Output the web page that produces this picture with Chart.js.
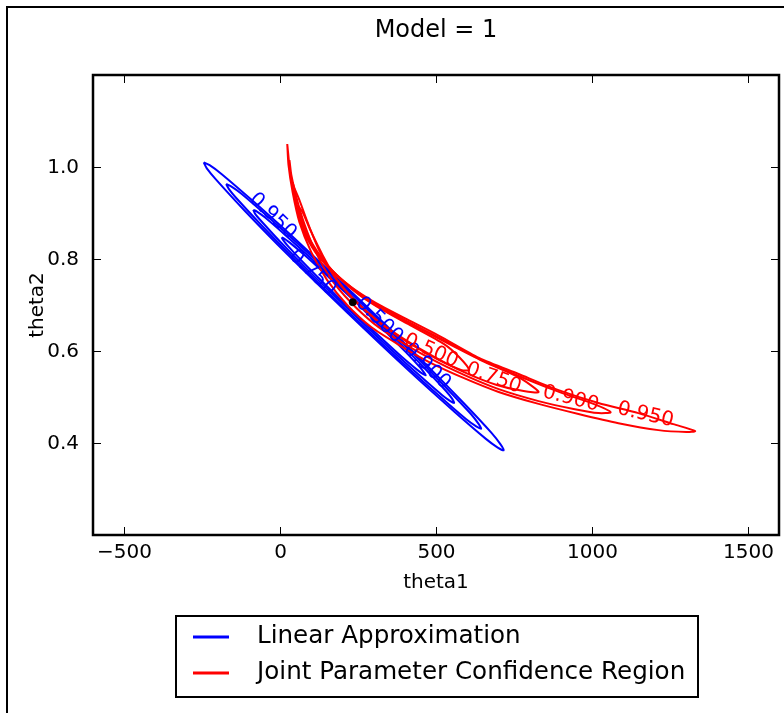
<!DOCTYPE html>
<html>
<head>
<meta charset="utf-8">
<title>Model = 1</title>
<script src="https://cdn.jsdelivr.net/npm/chart.js@4.4.1/dist/chart.umd.min.js"></script>
<style>
  html, body { margin: 0; padding: 0; background: #fff; }
  #wrap { position: relative; width: 784px; height: 713px; }
</style>
</head>
<body>
<div id="wrap"><canvas id="contourChart" width="784" height="713"></canvas></div>
<script>
(function () {
  'use strict';

  // Axis ticks
  var X_TICKS = [-500, 0, 500, 1000, 1500];
  var X_TICK_LABELS = ['\u2212500', '0', '500', '1000', '1500'];
  var Y_TICKS = [0.4, 0.6, 0.8, 1.0];
  var Y_TICK_LABELS = ['0.4', '0.6', '0.8', '1.0'];

  var SERIES_NAMES = ['Linear Approximation', 'Joint Parameter Confidence Region'];

  // Linear approximation ellipses, [theta1, theta2]
  var LIN_950 = [[-245, 1.010], [-226, 1.004], [-188, 0.985], [-87, 0.926], [62, 0.835], [256, 0.711],
    [447, 0.585], [587, 0.488], [678, 0.422], [707, 0.397], [717, 0.384], [698, 0.390], [660, 0.409],
    [559, 0.468], [410, 0.559], [216, 0.683], [25, 0.809], [-115, 0.906], [-206, 0.973], [-235, 0.997],
    [-245, 1.010]];
  var LIN_900 = [[-173, 0.963], [-157, 0.958], [-124, 0.942], [-39, 0.892], [88, 0.814], [253, 0.709],
    [415, 0.602], [534, 0.519], [612, 0.463], [636, 0.442], [645, 0.431], [629, 0.436], [596, 0.452],
    [511, 0.502], [384, 0.580], [219, 0.685], [57, 0.792], [-62, 0.875], [-140, 0.932], [-164, 0.952],
    [-173, 0.963]];
  var LIN_750 = [[-86, 0.907], [-74, 0.903], [-48, 0.890], [20, 0.850], [119, 0.789], [249, 0.706],
    [377, 0.622], [471, 0.557], [532, 0.513], [552, 0.496], [558, 0.487], [546, 0.491], [520, 0.504],
    [452, 0.544], [353, 0.605], [223, 0.688], [95, 0.772], [1, 0.837], [-60, 0.882], [-80, 0.898],
    [-86, 0.907]];
  var LIN_500 = [[5, 0.847], [14, 0.844], [32, 0.835], [81, 0.807], [152, 0.763], [246, 0.704],
    [337, 0.643], [404, 0.597], [448, 0.565], [462, 0.553], [467, 0.547], [458, 0.550], [440, 0.559],
    [391, 0.587], [320, 0.631], [226, 0.690], [135, 0.751], [68, 0.797], [24, 0.829], [10, 0.841],
    [5, 0.847]];

  // Joint confidence region contours
  var JOINT_950 = [[23, 1.050], [33, 0.983], [49, 0.917], [75, 0.863], [113, 0.815], [164, 0.776],
    [228, 0.739], [308, 0.704], [398, 0.672], [510, 0.633], [638, 0.585], [765, 0.550], [893, 0.515],
    [1021, 0.487], [1149, 0.465], [1261, 0.441], [1331, 0.426], [1303, 0.424], [1213, 0.428],
    [1085, 0.443], [957, 0.463], [829, 0.485], [701, 0.511], [590, 0.541], [478, 0.576], [382, 0.613],
    [292, 0.652], [215, 0.700], [151, 0.754], [100, 0.815], [62, 0.880], [40, 0.946], [27, 1.004],
    [23, 1.050]];
  var JOINT_900 = [[30, 1.015], [40, 0.961], [56, 0.907], [84, 0.854], [123, 0.809], [174, 0.770],
    [238, 0.733], [318, 0.698], [407, 0.665], [519, 0.626], [647, 0.580], [775, 0.543], [903, 0.509],
    [1005, 0.485], [1060, 0.467], [1021, 0.465], [941, 0.474], [829, 0.491], [701, 0.517], [590, 0.548],
    [484, 0.583], [388, 0.620], [302, 0.659], [225, 0.707], [161, 0.759], [113, 0.817], [78, 0.876],
    [52, 0.935], [36, 0.983], [30, 1.015]];
  var JOINT_750 = [[40, 0.967], [52, 0.917], [72, 0.874], [97, 0.835], [132, 0.800], [183, 0.763],
    [247, 0.726], [327, 0.691], [417, 0.659], [529, 0.620], [657, 0.576], [765, 0.543], [829, 0.511],
    [781, 0.513], [695, 0.526], [590, 0.554], [490, 0.589], [398, 0.626], [311, 0.667], [235, 0.713],
    [171, 0.765], [123, 0.822], [88, 0.880], [62, 0.928], [46, 0.954], [40, 0.967]];
  var JOINT_500 = [[56, 0.917], [75, 0.874], [100, 0.837], [139, 0.798], [190, 0.759], [254, 0.722],
    [334, 0.687], [423, 0.654], [526, 0.615], [574, 0.587], [606, 0.559], [580, 0.559], [510, 0.580],
    [414, 0.617], [324, 0.659], [247, 0.704], [183, 0.754], [136, 0.809], [97, 0.863], [72, 0.902],
    [56, 0.917]];

  // Point estimate
  var ESTIMATE = [[233, 0.706]];

  // Inline contour labels: text, theta1, theta2, angle (deg)
  var LIN_LABELS = [['0.950', -24, 0.893, 44], ['0.750', 104, 0.770, 44],
    ['0.500', 318, 0.667, 44], ['0.900', 471, 0.567, 44]];
  var JOINT_LABELS = [['0.500', 484, 0.600, 24], ['0.750', 685, 0.541, 20],
    ['0.900', 932, 0.496, 14], ['0.950', 1172, 0.461, 13]];

  var BLUE = '#0000ff';
  var RED = '#ff0000';
  var FONT = "'DejaVu Sans', sans-serif";

  Chart.defaults.font.family = FONT;
  Chart.defaults.color = '#000';

  function toXY(list) {
    return list.map(function (p) { return { x: p[0], y: p[1] }; });
  }

  function contour(list, color) {
    return {
      data: toXY(list),
      showLine: true,
      borderColor: color,
      backgroundColor: color,
      borderWidth: 2,
      pointRadius: 0,
      tension: 0.25,
      fill: false,
      order: color === RED ? 1 : 2
    };
  }

  function say(ctx, str, x, y, size, color, deg, align) {
    ctx.save();
    ctx.translate(x, y);
    if (deg) ctx.rotate(deg * Math.PI / 180);
    ctx.font = size + 'px ' + FONT;
    ctx.fillStyle = color;
    ctx.textAlign = align || 'center';
    ctx.textBaseline = 'middle';
    ctx.fillText(str, 0, 0);
    ctx.restore();
  }

  var decorPlugin = {
    id: 'decor',
    afterDatasetsDraw: function (chart) {
      var ctx = chart.ctx;
      var xs = chart.scales.x, ys = chart.scales.y;
      LIN_LABELS.forEach(function (l) {
        say(ctx, l[0], xs.getPixelForValue(l[1]), ys.getPixelForValue(l[2]), 20, BLUE, l[3]);
      });
      JOINT_LABELS.forEach(function (l) {
        say(ctx, l[0], xs.getPixelForValue(l[1]), ys.getPixelForValue(l[2]), 20, RED, l[3]);
      });
    },
    afterDraw: function (chart) {
      var ctx = chart.ctx;
      var a = chart.chartArea;
      var xs = chart.scales.x, ys = chart.scales.y;
      var cx = (a.left + a.right) / 2;
      ctx.save();

      // figure edge
      ctx.strokeStyle = '#000';
      ctx.lineWidth = 2;
      ctx.beginPath();
      ctx.moveTo(7, 713);
      ctx.lineTo(7, 7);
      ctx.lineTo(784, 7);
      ctx.stroke();

      // tick marks on all four sides, pointing inward, plus their labels
      ctx.lineWidth = 1;
      ctx.beginPath();
      X_TICKS.forEach(function (v, i) {
        var px = Math.round(xs.getPixelForValue(v)) + 0.5;
        ctx.moveTo(px, a.bottom); ctx.lineTo(px, a.bottom - 8);
        ctx.moveTo(px, a.top); ctx.lineTo(px, a.top + 8);
        say(ctx, X_TICK_LABELS[i], px, a.bottom + 18, 20, '#000');
      });
      Y_TICKS.forEach(function (v, i) {
        var py = Math.round(ys.getPixelForValue(v)) + 0.5;
        ctx.moveTo(a.left, py); ctx.lineTo(a.left + 8, py);
        ctx.moveTo(a.right, py); ctx.lineTo(a.right - 8, py);
        say(ctx, Y_TICK_LABELS[i], a.left - 14, py, 20, '#000', 0, 'right');
      });
      ctx.stroke();

      // axes frame
      ctx.lineWidth = 2.5;
      ctx.strokeRect(a.left, a.top, a.right - a.left, a.bottom - a.top);

      // title and axis titles
      say(ctx, 'Model = 1', cx, 31, 24, '#000');
      say(ctx, 'theta1', cx, 583, 20, '#000');
      say(ctx, 'theta2', 38, (a.top + a.bottom) / 2, 20, '#000', -90);

      // legend
      ctx.lineWidth = 2;
      ctx.strokeStyle = '#000';
      ctx.strokeRect(176, 616, 522, 81);
      [BLUE, RED].forEach(function (c, i) {
        var y = 637 + i * 36;
        ctx.strokeStyle = c;
        ctx.lineWidth = 3;
        ctx.beginPath();
        ctx.moveTo(193, y);
        ctx.lineTo(229, y);
        ctx.stroke();
        say(ctx, SERIES_NAMES[i], 257, y, 24.6, '#000', 0, 'left');
      });
      ctx.restore();
    }
  };

  var canvas = document.getElementById('contourChart');
  new Chart(canvas.getContext('2d'), {
    type: 'scatter',
    data: {
      datasets: [
        contour(LIN_950, BLUE),
        contour(LIN_900, BLUE),
        contour(LIN_750, BLUE),
        contour(LIN_500, BLUE),
        contour(JOINT_950, RED),
        contour(JOINT_900, RED),
        contour(JOINT_750, RED),
        contour(JOINT_500, RED),
        {
          data: toXY(ESTIMATE),
          pointRadius: 3.5,
          pointBackgroundColor: '#000',
          pointBorderColor: '#000',
          order: 0
        }
      ]
    },
    options: {
      responsive: false,
      animation: false,
      devicePixelRatio: 1,
      events: [],
      layout: { padding: { top: 75, right: 3, bottom: 148, left: 0 } },
      scales: {
        x: {
          type: 'linear',
          min: -600,
          max: 1600,
          afterBuildTicks: function (s) { s.ticks = X_TICKS.map(function (v) { return { value: v }; }); },
          afterFit: function (s) { s.height = 30; },
          ticks: { display: false },
          grid: { display: false, drawTicks: false },
          border: { display: false }
        },
        y: {
          type: 'linear',
          min: 0.2,
          max: 1.2,
          afterBuildTicks: function (s) { s.ticks = Y_TICKS.map(function (v) { return { value: v }; }); },
          afterFit: function (s) { s.width = 93; },
          ticks: { display: false },
          grid: { display: false, drawTicks: false },
          border: { display: false }
        }
      },
      plugins: {
        legend: { display: false },
        title: { display: false },
        tooltip: { enabled: false }
      }
    },
    plugins: [decorPlugin]
  });
})();
</script>
</body>
</html>
